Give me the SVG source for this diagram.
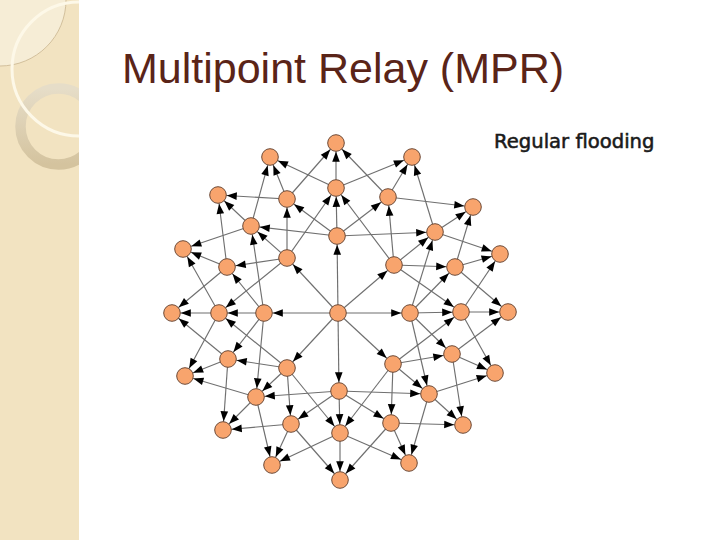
<svg xmlns="http://www.w3.org/2000/svg" width="720" height="540" viewBox="0 0 720 540">
<style>
.e{stroke:#6f6f6f;stroke-width:1.15;fill:none;marker-end:url(#ah)}
.n circle{fill:#F8A46D;stroke:#6e4a36;stroke-width:1}
.title{font-family:"Liberation Sans",Arial,sans-serif;font-size:43px;fill:#5a2418}
.lbl{font-family:"DejaVu Sans",Verdana,sans-serif;font-size:19.6px;fill:#1a1a1a;stroke:#1a1a1a;stroke-width:0.55}
</style>
<defs>
<marker id="ah" markerUnits="userSpaceOnUse" markerWidth="11" markerHeight="9" refX="18.8" refY="3.8" orient="auto" overflow="visible">
<path d="M0,0 L10,3.8 L0,7.6 z" fill="#000"/>
</marker>
<clipPath id="strip"><rect x="0" y="0" width="79" height="540"/></clipPath>
<linearGradient id="ringG" x1="0" y1="0" x2="0" y2="1">
<stop offset="0" stop-color="#e6ddc8"/>
<stop offset="1" stop-color="#d4c39e"/>
</linearGradient>
</defs>
<rect x="0" y="0" width="720" height="540" fill="#ffffff"/>
<g id="decor">
<rect x="0" y="0" width="79" height="540" fill="#f2e3c1"/>
<g clip-path="url(#strip)">
<circle cx="0" cy="0" r="66" fill="#f6edd6" stroke="#c9b58f" stroke-width="0.8"/>
<circle cx="58.5" cy="126.5" r="38" fill="none" stroke="url(#ringG)" stroke-width="10.5"/>
<circle cx="79" cy="69" r="67" fill="none" stroke="#fdf8e8" stroke-width="3"/>
</g>
</g>
<text class="title" x="122" y="83">Multipoint Relay (MPR)</text>
<text class="lbl" x="494" y="148">Regular flooding</text>
<g id="connectors">
<line class="e" x1="338" y1="313" x2="337" y2="236"/>
<line class="e" x1="338" y1="313" x2="394" y2="265"/>
<line class="e" x1="338" y1="313" x2="410" y2="313"/>
<line class="e" x1="338" y1="313" x2="393" y2="364"/>
<line class="e" x1="338" y1="313" x2="339" y2="391"/>
<line class="e" x1="338" y1="313" x2="287" y2="368"/>
<line class="e" x1="338" y1="313" x2="264" y2="313"/>
<line class="e" x1="338" y1="313" x2="287" y2="258"/>
<line class="e" x1="337" y1="236" x2="251" y2="226"/>
<line class="e" x1="337" y1="236" x2="287" y2="199"/>
<line class="e" x1="337" y1="236" x2="336" y2="188"/>
<line class="e" x1="337" y1="236" x2="388" y2="197"/>
<line class="e" x1="337" y1="236" x2="435" y2="232"/>
<line class="e" x1="394" y1="265" x2="336" y2="188"/>
<line class="e" x1="394" y1="265" x2="388" y2="197"/>
<line class="e" x1="394" y1="265" x2="435" y2="232"/>
<line class="e" x1="394" y1="265" x2="455" y2="267"/>
<line class="e" x1="394" y1="265" x2="461" y2="312"/>
<line class="e" x1="410" y1="313" x2="435" y2="232"/>
<line class="e" x1="410" y1="313" x2="455" y2="267"/>
<line class="e" x1="410" y1="313" x2="461" y2="312"/>
<line class="e" x1="410" y1="313" x2="452" y2="354"/>
<line class="e" x1="410" y1="313" x2="429" y2="394"/>
<line class="e" x1="393" y1="364" x2="461" y2="312"/>
<line class="e" x1="393" y1="364" x2="452" y2="354"/>
<line class="e" x1="393" y1="364" x2="429" y2="394"/>
<line class="e" x1="393" y1="364" x2="391" y2="423"/>
<line class="e" x1="393" y1="364" x2="340" y2="433"/>
<line class="e" x1="339" y1="391" x2="429" y2="394"/>
<line class="e" x1="339" y1="391" x2="391" y2="423"/>
<line class="e" x1="339" y1="391" x2="340" y2="433"/>
<line class="e" x1="339" y1="391" x2="291" y2="424"/>
<line class="e" x1="339" y1="391" x2="256" y2="397"/>
<line class="e" x1="287" y1="368" x2="340" y2="433"/>
<line class="e" x1="287" y1="368" x2="291" y2="424"/>
<line class="e" x1="287" y1="368" x2="256" y2="397"/>
<line class="e" x1="287" y1="368" x2="228" y2="359"/>
<line class="e" x1="287" y1="368" x2="219" y2="313"/>
<line class="e" x1="264" y1="313" x2="256" y2="397"/>
<line class="e" x1="264" y1="313" x2="228" y2="359"/>
<line class="e" x1="264" y1="313" x2="219" y2="313"/>
<line class="e" x1="264" y1="313" x2="227" y2="267"/>
<line class="e" x1="264" y1="313" x2="251" y2="226"/>
<line class="e" x1="287" y1="258" x2="219" y2="313"/>
<line class="e" x1="287" y1="258" x2="227" y2="267"/>
<line class="e" x1="287" y1="258" x2="251" y2="226"/>
<line class="e" x1="287" y1="258" x2="287" y2="199"/>
<line class="e" x1="287" y1="258" x2="336" y2="188"/>
<line class="e" x1="336" y1="188" x2="270" y2="157"/>
<line class="e" x1="336" y1="188" x2="336" y2="143"/>
<line class="e" x1="336" y1="188" x2="412" y2="157"/>
<line class="e" x1="388" y1="197" x2="336" y2="143"/>
<line class="e" x1="388" y1="197" x2="412" y2="157"/>
<line class="e" x1="388" y1="197" x2="473" y2="207"/>
<line class="e" x1="435" y1="232" x2="412" y2="157"/>
<line class="e" x1="435" y1="232" x2="473" y2="207"/>
<line class="e" x1="435" y1="232" x2="500" y2="254"/>
<line class="e" x1="455" y1="267" x2="473" y2="207"/>
<line class="e" x1="455" y1="267" x2="500" y2="254"/>
<line class="e" x1="455" y1="267" x2="508" y2="312"/>
<line class="e" x1="461" y1="312" x2="500" y2="254"/>
<line class="e" x1="461" y1="312" x2="508" y2="312"/>
<line class="e" x1="461" y1="312" x2="495" y2="373"/>
<line class="e" x1="452" y1="354" x2="508" y2="312"/>
<line class="e" x1="452" y1="354" x2="495" y2="373"/>
<line class="e" x1="452" y1="354" x2="463" y2="425"/>
<line class="e" x1="429" y1="394" x2="495" y2="373"/>
<line class="e" x1="429" y1="394" x2="463" y2="425"/>
<line class="e" x1="429" y1="394" x2="409" y2="463"/>
<line class="e" x1="391" y1="423" x2="463" y2="425"/>
<line class="e" x1="391" y1="423" x2="409" y2="463"/>
<line class="e" x1="391" y1="423" x2="340" y2="480"/>
<line class="e" x1="340" y1="433" x2="409" y2="463"/>
<line class="e" x1="340" y1="433" x2="340" y2="480"/>
<line class="e" x1="340" y1="433" x2="272" y2="465"/>
<line class="e" x1="291" y1="424" x2="340" y2="480"/>
<line class="e" x1="291" y1="424" x2="272" y2="465"/>
<line class="e" x1="291" y1="424" x2="223" y2="430"/>
<line class="e" x1="256" y1="397" x2="272" y2="465"/>
<line class="e" x1="256" y1="397" x2="223" y2="430"/>
<line class="e" x1="256" y1="397" x2="185" y2="376"/>
<line class="e" x1="228" y1="359" x2="223" y2="430"/>
<line class="e" x1="228" y1="359" x2="185" y2="376"/>
<line class="e" x1="228" y1="359" x2="172" y2="313"/>
<line class="e" x1="219" y1="313" x2="185" y2="376"/>
<line class="e" x1="219" y1="313" x2="172" y2="313"/>
<line class="e" x1="219" y1="313" x2="183" y2="249"/>
<line class="e" x1="227" y1="267" x2="172" y2="313"/>
<line class="e" x1="227" y1="267" x2="183" y2="249"/>
<line class="e" x1="227" y1="267" x2="218" y2="195"/>
<line class="e" x1="251" y1="226" x2="183" y2="249"/>
<line class="e" x1="251" y1="226" x2="218" y2="195"/>
<line class="e" x1="251" y1="226" x2="270" y2="157"/>
<line class="e" x1="287" y1="199" x2="218" y2="195"/>
<line class="e" x1="287" y1="199" x2="270" y2="157"/>
<line class="e" x1="287" y1="199" x2="336" y2="143"/>
</g>
<g id="nodes" class="n">
<g id="n-C"><circle cx="338" cy="313" r="8.3"/></g>
<g id="n-I0"><circle cx="337" cy="236" r="8.3"/></g>
<g id="n-I1"><circle cx="394" cy="265" r="8.3"/></g>
<g id="n-I2"><circle cx="410" cy="313" r="8.3"/></g>
<g id="n-I3"><circle cx="393" cy="364" r="8.3"/></g>
<g id="n-I4"><circle cx="339" cy="391" r="8.3"/></g>
<g id="n-I5"><circle cx="287" cy="368" r="8.3"/></g>
<g id="n-I6"><circle cx="264" cy="313" r="8.3"/></g>
<g id="n-I7"><circle cx="287" cy="258" r="8.3"/></g>
<g id="n-M0"><circle cx="336" cy="188" r="8.3"/></g>
<g id="n-M1"><circle cx="388" cy="197" r="8.3"/></g>
<g id="n-M2"><circle cx="435" cy="232" r="8.3"/></g>
<g id="n-M3"><circle cx="455" cy="267" r="8.3"/></g>
<g id="n-M4"><circle cx="461" cy="312" r="8.3"/></g>
<g id="n-M5"><circle cx="452" cy="354" r="8.3"/></g>
<g id="n-M6"><circle cx="429" cy="394" r="8.3"/></g>
<g id="n-M7"><circle cx="391" cy="423" r="8.3"/></g>
<g id="n-M8"><circle cx="340" cy="433" r="8.3"/></g>
<g id="n-M9"><circle cx="291" cy="424" r="8.3"/></g>
<g id="n-M10"><circle cx="256" cy="397" r="8.3"/></g>
<g id="n-M11"><circle cx="228" cy="359" r="8.3"/></g>
<g id="n-M12"><circle cx="219" cy="313" r="8.3"/></g>
<g id="n-M13"><circle cx="227" cy="267" r="8.3"/></g>
<g id="n-M14"><circle cx="251" cy="226" r="8.3"/></g>
<g id="n-M15"><circle cx="287" cy="199" r="8.3"/></g>
<g id="n-O0"><circle cx="336" cy="143" r="8.3"/></g>
<g id="n-O1"><circle cx="412" cy="157" r="8.3"/></g>
<g id="n-O2"><circle cx="473" cy="207" r="8.3"/></g>
<g id="n-O3"><circle cx="500" cy="254" r="8.3"/></g>
<g id="n-O4"><circle cx="508" cy="312" r="8.3"/></g>
<g id="n-O5"><circle cx="495" cy="373" r="8.3"/></g>
<g id="n-O6"><circle cx="463" cy="425" r="8.3"/></g>
<g id="n-O7"><circle cx="409" cy="463" r="8.3"/></g>
<g id="n-O8"><circle cx="340" cy="480" r="8.3"/></g>
<g id="n-O9"><circle cx="272" cy="465" r="8.3"/></g>
<g id="n-O10"><circle cx="223" cy="430" r="8.3"/></g>
<g id="n-O11"><circle cx="185" cy="376" r="8.3"/></g>
<g id="n-O12"><circle cx="172" cy="313" r="8.3"/></g>
<g id="n-O13"><circle cx="183" cy="249" r="8.3"/></g>
<g id="n-O14"><circle cx="218" cy="195" r="8.3"/></g>
<g id="n-O15"><circle cx="270" cy="157" r="8.3"/></g>
</g>
</svg>
